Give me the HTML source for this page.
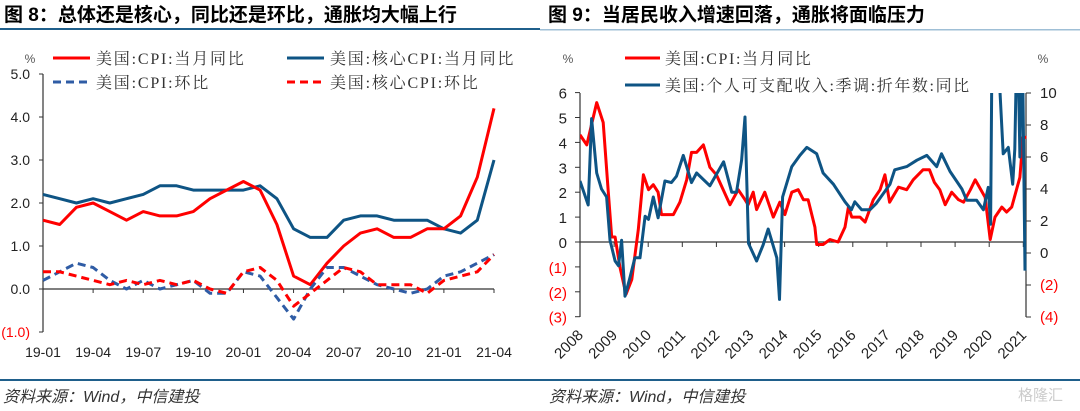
<!DOCTYPE html>
<html><head><meta charset="utf-8">
<style>
body{margin:0;background:#fff;width:1080px;height:411px;overflow:hidden;font-family:"Liberation Sans","Noto Sans CJK SC",sans-serif;}
svg{position:absolute;left:0;top:0}
</style></head>
<body>
<svg id="s" width="1080" height="411">
<g>
<text x="4" y="21" font-size="19" font-weight="bold" font-family="'Liberation Sans','Noto Sans CJK SC',sans-serif">图 8：总体还是核心，同比还是环比，通胀均大幅上行</text>
<rect x="0" y="28" width="540" height="2" fill="#1f5f8b"/>
</g>
<g>
<text x="548" y="21" font-size="19" font-weight="bold" font-family="'Liberation Sans','Noto Sans CJK SC',sans-serif">图 9：当居民收入增速回落，通胀将面临压力</text>
<rect x="540" y="29" width="540" height="1.5" fill="#9fbfd6"/>
</g>
<rect x="0" y="379" width="540" height="2" fill="#1f5f8b"/>
<rect x="540" y="379" width="540" height="2" fill="#1f5f8b"/>
<text x="3" y="402" font-size="16" font-style="italic" fill="#333">资料来源：Wind，中信建投</text>
<text x="549" y="402" font-size="16" font-style="italic" fill="#333">资料来源：Wind，中信建投</text>
<text x="1018" y="400" font-size="15" fill="#ccc">格隆汇</text>
<g id="L"></g>
<g id="R"></g>
</svg>
<script>
// ---------- Left chart data ----------
const leftMonths = ["19-01","19-02","19-03","19-04","19-05","19-06","19-07","19-08","19-09","19-10","19-11","19-12","20-01","20-02","20-03","20-04","20-05","20-06","20-07","20-08","20-09","20-10","20-11","20-12","21-01","21-02","21-03","21-04"];
const cpiYoy = [1.6,1.5,1.9,2.0,1.8,1.6,1.8,1.7,1.7,1.8,2.1,2.3,2.5,2.3,1.5,0.3,0.1,0.6,1.0,1.3,1.4,1.2,1.2,1.4,1.4,1.7,2.6,4.2];
const coreYoy = [2.2,2.1,2.0,2.1,2.0,2.1,2.2,2.4,2.4,2.3,2.3,2.3,2.3,2.4,2.1,1.4,1.2,1.2,1.6,1.7,1.7,1.6,1.6,1.6,1.4,1.3,1.6,3.0];
const cpiMom = [0.2,0.4,0.6,0.5,0.2,0.0,0.2,0.0,0.1,0.2,-0.1,-0.1,0.4,0.3,-0.2,-0.7,0.0,0.5,0.5,0.3,0.1,0.0,-0.1,0.0,0.3,0.4,0.6,0.8];
const coreMom = [0.4,0.4,0.3,0.2,0.1,0.2,0.1,0.2,0.1,0.2,0.0,-0.1,0.4,0.5,0.2,-0.4,-0.1,0.2,0.5,0.4,0.1,0.1,0.1,-0.1,0.2,0.3,0.4,0.8];
const leftTicks = [5,4,3,2,1,0,-1];
const leftTickLabels = ["5.0","4.0","3.0","2.0","1.0","0.0","(1.0)"];

// ---------- Right chart data ----------
const rightYears = ["2008","2009","2010","2011","2012","2013","2014","2015","2016","2017","2018","2019","2020","2021"];
const cpiDates = [2008.00,2008.20,2008.49,2008.68,2008.83,2008.93,2009.03,2009.17,2009.35,2009.52,2009.71,2009.86,2010.01,2010.15,2010.29,2010.39,2010.74,2010.93,2011.13,2011.27,2011.42,2011.62,2011.81,2012.00,2012.30,2012.40,2012.64,2012.84,2012.93,2013.08,2013.18,2013.42,2013.67,2013.86,2014.01,2014.21,2014.40,2014.55,2014.69,2014.89,2014.94,2015.13,2015.33,2015.57,2015.77,2015.87,2015.97,2016.21,2016.36,2016.60,2016.80,2016.94,2017.08,2017.34,2017.58,2017.77,2018.06,2018.25,2018.39,2018.55,2018.71,2018.90,2019.10,2019.25,2019.45,2019.59,2019.88,2020.03,2020.17,2020.37,2020.51,2020.66,2020.90,2020.99,2021.09];
const cpiVals = [4.3,3.9,5.6,4.8,2.0,0.2,0.2,-1.0,-2.1,-1.5,0.5,2.7,2.1,2.3,2.0,1.1,1.1,1.6,2.5,3.6,3.6,3.9,3.0,2.7,1.8,1.5,2.1,1.7,1.5,2.0,1.3,2.0,1.0,1.6,1.1,2.0,2.1,1.7,1.7,0.6,-0.1,-0.1,0.1,0.0,0.6,1.4,1.0,1.0,0.8,1.7,2.1,2.7,1.6,2.2,2.1,2.5,2.9,2.9,2.4,2.1,1.5,2.0,1.7,1.6,2.1,2.5,1.8,0.1,1.0,1.4,1.2,1.4,2.6,4.2,4.2];
const incDates = [2008.00,2008.24,2008.34,2008.49,2008.63,2008.78,2008.88,2009.03,2009.13,2009.22,2009.32,2009.47,2009.61,2009.76,2009.91,2010.01,2010.15,2010.29,2010.49,2010.68,2010.83,2011.03,2011.27,2011.42,2011.81,2012.21,2012.45,2012.59,2012.74,2012.84,2012.94,2013.18,2013.37,2013.52,2013.77,2013.85,2013.94,2014.21,2014.45,2014.65,2014.94,2015.13,2015.43,2015.77,2015.96,2016.06,2016.26,2016.50,2016.69,2017.09,2017.23,2017.58,2017.88,2018.17,2018.46,2018.60,2018.85,2019.20,2019.34,2019.63,2019.83,2019.97,2020.04,2020.08,2020.27,2020.41,2020.56,2020.69,2020.75,2020.80,2020.85,2020.90,2020.94,2020.98,2021.05];
const incVals = [4.5,3.0,8.4,5.0,4.0,3.5,0.8,-0.5,-0.8,0.8,-2.7,-1.5,-0.3,-0.3,2.3,2.1,3.5,2.2,4.5,4.4,4.8,6.1,4.4,5.0,4.2,5.7,3.8,3.8,5.8,8.5,0.6,-0.5,0.5,1.5,-0.3,-2.9,3.5,5.4,6.1,6.6,6.2,5.0,4.3,3.2,2.7,3.2,2.7,2.7,3.1,4.3,5.2,5.4,5.8,6.1,5.4,6.2,5.1,4.0,3.3,3.3,2.7,4.1,1.8,12,12,6.2,6.6,4.3,6.5,12,12,6,12,12,-1.1];
const rightLeftTicks = [6,5,4,3,2,1,0,-1,-2,-3];
const rightLeftLabels = ["6","5","4","3","2","1","0","(1)","(2)","(3)"];
const rightRightTicks = [10,8,6,4,2,0,-2,-4];
const rightRightLabels = ["10","8","6","4","2","0","(2)","(4)"];

const NS="http://www.w3.org/2000/svg";
function mk(parent,tag,attrs,txt){const e=document.createElementNS(NS,tag);for(const k in attrs)e.setAttribute(k,attrs[k]);if(txt!==undefined)e.textContent=txt;parent.appendChild(e);return e;}
const serif="'Liberation Serif','Noto Serif CJK SC',serif";

// ---------- Left chart ----------
(function(){
const g=document.getElementById('L');
const x0=43,x1=494,yTop=74,yBot=332;
const ly=v=>289-v*43;
const lx=i=>x0+i*(x1-x0)/(leftMonths.length-1);
const t1=mk(g,'text',{x:30,y:63,'font-size':12,fill:'#555','text-anchor':'middle'},'%');


leftTicks.forEach((v,i)=>{
  const t=mk(g,'text',{x:30,y:ly(v)+5,'font-size':14,'text-anchor':'end',fill:v<0?'#f00':'#222','font-family':"'Liberation Sans Narrow','Liberation Sans',sans-serif"},leftTickLabels[i]);
  
  
  mk(g,'line',{x1:x0-4,x2:x0,y1:ly(v),y2:ly(v),stroke:'#333'});
});
const ax=mk(g,'line',{x1:x0,x2:x0,y1:yTop,y2:yBot,stroke:'#333','stroke-width':1.2});


const xa=mk(g,'line',{x1:x0,x2:x1,y1:ly(0),y2:ly(0),stroke:'#333','stroke-width':1.2});


leftMonths.forEach((m,i)=>{
  if(i%3===0){
    mk(g,'line',{x1:lx(i),x2:lx(i),y1:ly(0),y2:ly(0)+4,stroke:'#333'});
    const t=mk(g,'text',{x:lx(i),y:357,'font-size':14,'text-anchor':'middle',fill:'#222','font-family':"'Liberation Sans Narrow','Liberation Sans',sans-serif"},m);
    
    
  }
});
function series(arr,color,dash,name){
  const d=arr.map((v,i)=>(i?'L':'M')+lx(i).toFixed(1)+','+ly(v).toFixed(1)).join('');
  const p=mk(g,'path',{d:d,fill:'none',stroke:color,'stroke-width':3,'stroke-dasharray':dash||'none','stroke-linejoin':'round'});
  
  
}
series(coreYoy,'#0e5484','', 'core-cpi-yoy-line');
series(cpiYoy,'#ff0000','', 'cpi-yoy-line');
series(cpiMom,'#2f5ca5','8,5','cpi-mom-line');
series(coreMom,'#ff0000','8,5','core-cpi-mom-line');
const leg=[[53,58,'#ff0000','','美国:CPI:当月同比'],[287,58,'#0e5484','','美国:核心CPI:当月同比'],[53,82,'#2f5ca5','8,5','美国:CPI:环比'],[287,82,'#ff0000','8,5','美国:核心CPI:环比']];
leg.forEach(l=>{
  const lg=mk(g,'g',{});
  
  
  mk(lg,'line',{x1:l[0],x2:l[0]+37,y1:l[1],y2:l[1],stroke:l[2],'stroke-width':3,'stroke-dasharray':l[3]||'none'});
  mk(lg,'text',{x:l[0]+43,y:l[1]+6,'font-size':16,fill:'#333','font-family':serif,'letter-spacing':'1.8'},l[4]);
});
})();

// ---------- Right chart ----------
(function(){
const g=document.getElementById('R');
const x0=580,x1=1026,yTop=93,yBot=317;
const ly=v=>242-v*24.9;
const ry=v=>253-v*16;
const tx=t=>x0+(t-2008)*34.1;
const cp=mk(g,'clipPath',{id:'rc'});
mk(cp,'rect',{x:x0,y:yTop,width:x1-x0+2,height:yBot-yTop});
const u1=mk(g,'text',{x:568,y:63,'font-size':12,fill:'#555','text-anchor':'middle'},'%');


const u2=mk(g,'text',{x:1043,y:63,'font-size':12,fill:'#555','text-anchor':'middle'},'%');


rightLeftTicks.forEach((v,i)=>{
  mk(g,'line',{x1:x0-5,x2:x0,y1:ly(v),y2:ly(v),stroke:'#333'});
  const t=mk(g,'text',{x:567,y:ly(v)+6,'font-size':15,'text-anchor':'end',fill:v<0?'#f00':'#222'},rightLeftLabels[i]);
  
  
});
rightRightTicks.forEach((v,i)=>{
  mk(g,'line',{x1:x1,x2:x1+5,y1:ry(v),y2:ry(v),stroke:'#333'});
  const t=mk(g,'text',{x:1040,y:ry(v)+5,'font-size':15,'text-anchor':'start',fill:v<0?'#f00':'#222'},rightRightLabels[i]);
  
  
});
const a1=mk(g,'line',{x1:x0,x2:x0,y1:yTop,y2:yBot,stroke:'#333','stroke-width':1.2});


const a2=mk(g,'line',{x1:x1,x2:x1,y1:yTop,y2:yBot,stroke:'#333','stroke-width':1.2});


const a3=mk(g,'line',{x1:x0,x2:x1,y1:ly(0),y2:ly(0),stroke:'#333','stroke-width':1.2});


rightYears.forEach((y,i)=>{
  const x=tx(+y);
  mk(g,'line',{x1:x,x2:x,y1:ly(0),y2:ly(0)+5,stroke:'#333'});
  const t=mk(g,'text',{x:x+4,y:336,'font-size':15,'text-anchor':'end',fill:'#222',transform:`rotate(-45 ${x+4} 336)`},y);
  
  
});
const cg=mk(g,'g',{'clip-path':'url(#rc)'});
const d1=cpiDates.map((t,i)=>(i?'L':'M')+tx(t).toFixed(1)+','+ly(cpiVals[i]).toFixed(1)).join('');
const p1=mk(cg,'path',{d:d1,fill:'none',stroke:'#ff0000','stroke-width':3,'stroke-linejoin':'round'});


const d2=incDates.map((t,i)=>(i?'L':'M')+tx(t).toFixed(1)+','+ry(incVals[i]).toFixed(1)).join('');
const p2=mk(cg,'path',{d:d2,fill:'none',stroke:'#0e5484','stroke-width':3,'stroke-linejoin':'round'});


const leg=[[625,58,'#ff0000','美国:CPI:当月同比'],[625,85,'#0e5484','美国:个人可支配收入:季调:折年数:同比']];
leg.forEach(l=>{
  const lg=mk(g,'g',{});
  
  
  mk(lg,'line',{x1:l[0],x2:l[0]+35,y1:l[1],y2:l[1],stroke:l[2],'stroke-width':3});
  mk(lg,'text',{x:l[0]+40,y:l[1]+6,'font-size':16,fill:'#333','font-family':serif,'letter-spacing':'1.6'},l[3]);
});
})();
</script>
</body></html>
